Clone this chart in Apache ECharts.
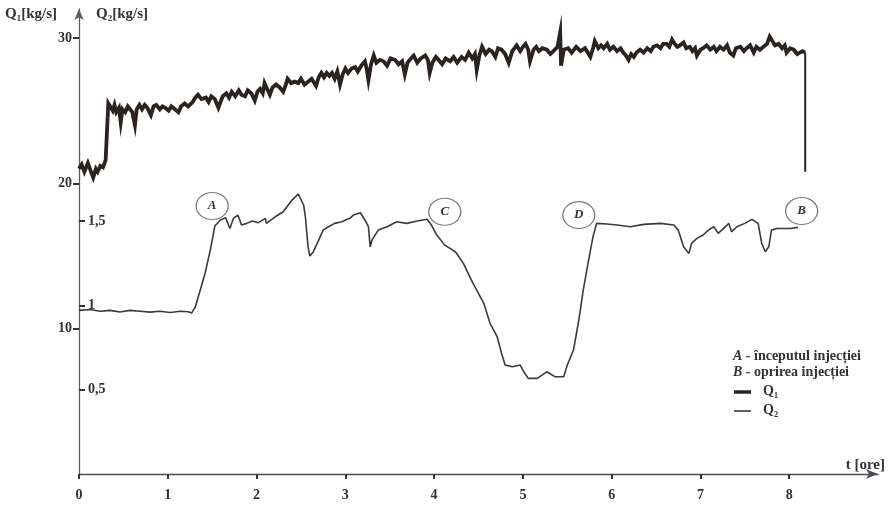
<!DOCTYPE html>
<html>
<head>
<meta charset="utf-8">
<script src="https://cdn.jsdelivr.net/npm/echarts@6/dist/echarts.min.js"></script>
<style>
  html, body { margin: 0; padding: 0; background: #fff; }
  #chart { width: 888px; height: 508px; }
</style>
</head>
<body>
<div id="chart"></div>
<script>
// t [ore] -> Q1 [kg/s]
var q1Data = [
  [0.00,21.0],[0.03,21.3],[0.06,20.8],[0.10,21.4],[0.13,20.9],[0.16,20.4],[0.19,21.0],[0.21,20.8],[0.24,21.2],[0.27,21.1],
  [0.30,21.6],[0.32,21.5],[0.33,25.5],[0.35,25.3],[0.38,25.0],[0.40,25.4],[0.42,24.9],[0.45,25.2],[0.47,24.2],[0.49,25.1],
  [0.52,24.9],[0.55,25.3],[0.57,25.2],[0.60,24.9],[0.63,24.0],[0.65,25.1],[0.68,25.4],[0.71,25.1],[0.74,25.4],[0.77,25.2],
  [0.81,24.7],[0.84,25.3],[0.87,25.4],[0.91,25.1],[0.94,25.3],[0.97,25.2],[1.01,25.0],[1.04,25.3],[1.08,25.1],[1.12,24.9],
  [1.15,25.3],[1.19,25.5],[1.23,25.3],[1.28,25.6],[1.31,25.9],[1.34,26.1],[1.38,25.8],[1.43,25.9],[1.46,25.6],[1.49,26.0],
  [1.53,25.8],[1.57,25.2],[1.60,25.7],[1.62,26.0],[1.66,26.2],[1.69,25.9],[1.72,26.3],[1.76,26.0],[1.80,26.4],[1.83,26.1],
  [1.87,26.0],[1.90,26.4],[1.94,26.2],[1.98,25.7],[2.01,26.3],[2.04,26.5],[2.07,26.2],[2.09,26.9],[2.12,26.5],[2.15,26.1],
  [2.18,26.6],[2.22,26.8],[2.26,26.6],[2.30,26.3],[2.33,26.8],[2.35,27.2],[2.39,26.9],[2.43,27.0],[2.47,26.9],[2.50,27.2],
  [2.54,26.8],[2.58,27.0],[2.62,27.2],[2.67,26.7],[2.70,27.3],[2.73,27.6],[2.76,27.3],[2.79,27.6],[2.82,27.4],[2.85,27.6],
  [2.88,27.2],[2.91,27.7],[2.94,26.8],[2.97,27.5],[3.00,27.9],[3.03,27.6],[3.07,27.9],[3.11,28.0],[3.14,27.7],[3.18,28.1],
  [3.22,28.4],[3.24,27.9],[3.26,27.1],[3.29,28.2],[3.32,28.8],[3.35,28.3],[3.39,28.5],[3.43,28.4],[3.47,28.1],[3.51,28.6],
  [3.56,28.5],[3.60,28.2],[3.64,28.4],[3.67,27.5],[3.70,28.3],[3.74,28.6],[3.77,28.8],[3.81,28.3],[3.85,28.6],[3.90,28.8],
  [3.93,28.5],[3.95,27.6],[3.98,28.3],[4.02,28.7],[4.05,28.5],[4.09,28.2],[4.13,28.6],[4.18,28.4],[4.22,28.7],[4.26,28.3],
  [4.31,28.7],[4.35,28.5],[4.39,29.0],[4.43,28.6],[4.46,28.9],[4.48,27.8],[4.51,28.8],[4.54,29.4],[4.58,28.9],[4.62,29.2],
  [4.65,29.1],[4.69,28.7],[4.72,29.3],[4.76,29.2],[4.80,28.9],[4.84,28.3],[4.88,29.1],[4.93,29.5],[4.97,29.1],[5.00,29.4],
  [5.03,29.6],[5.06,29.2],[5.08,28.4],[5.12,29.2],[5.15,29.4],[5.18,29.1],[5.22,29.3],[5.27,29.2],[5.31,28.9],[5.36,29.2],
  [5.39,29.4],[5.42,30.4],[5.43,28.1],[5.46,29.2],[5.51,29.3],[5.55,29.0],[5.60,29.4],[5.65,29.1],[5.70,29.3],[5.73,29.0],
  [5.76,28.7],[5.79,29.3],[5.81,29.8],[5.85,29.3],[5.88,29.5],[5.91,29.3],[5.95,29.6],[5.98,29.2],[6.02,29.4],[6.06,29.1],
  [6.10,29.3],[6.13,29.0],[6.16,28.8],[6.19,28.5],[6.22,28.9],[6.25,28.7],[6.28,29.0],[6.32,29.2],[6.36,29.0],[6.40,29.3],
  [6.44,29.1],[6.47,29.4],[6.51,29.5],[6.55,29.3],[6.58,29.6],[6.62,29.6],[6.65,29.4],[6.68,29.9],[6.71,29.6],[6.74,29.4],
  [6.77,29.5],[6.81,29.7],[6.84,29.3],[6.88,29.4],[6.91,29.1],[6.94,29.3],[6.96,28.8],[7.00,29.2],[7.03,29.3],[7.07,29.5],
  [7.11,29.2],[7.15,29.4],[7.18,29.1],[7.22,29.4],[7.26,29.2],[7.30,29.5],[7.33,29.0],[7.37,28.8],[7.40,29.3],[7.45,29.4],
  [7.49,29.1],[7.52,29.3],[7.56,29.5],[7.60,29.0],[7.63,29.4],[7.67,29.2],[7.71,29.4],[7.75,29.6],[7.78,30.1],[7.81,29.8],
  [7.84,29.5],[7.88,29.6],[7.92,29.3],[7.95,29.5],[7.97,29.0],[8.01,29.3],[8.05,29.2],[8.09,28.9],[8.12,29.0],[8.15,29.1],
  [8.18,29.0]
];

// final shut-off drop of Q1 (drawn thinner)
var q1Drop = [[8.18,29.0],[8.18,20.8]];

// t [ore] -> Q2 [kg/s]
var q2Data = [
  [0.00,0.970],[0.12,0.975],[0.24,0.965],[0.35,0.970],[0.46,0.960],[0.57,0.970],[0.69,0.965],[0.80,0.960],[0.91,0.965],
  [1.03,0.958],[1.14,0.965],[1.23,0.962],[1.27,0.955],[1.31,0.990],[1.36,1.080],[1.42,1.190],[1.48,1.330],[1.53,1.470],
  [1.59,1.505],[1.65,1.520],[1.70,1.456],[1.74,1.516],[1.79,1.535],[1.83,1.476],[1.89,1.486],[1.95,1.500],[2.02,1.490],
  [2.10,1.516],[2.11,1.486],[2.21,1.525],[2.30,1.555],[2.40,1.624],[2.47,1.660],[2.53,1.595],[2.55,1.525],[2.58,1.347],
  [2.60,1.292],[2.64,1.318],[2.70,1.387],[2.75,1.446],[2.81,1.466],[2.88,1.486],[2.96,1.496],[3.05,1.516],[3.09,1.535],
  [3.17,1.549],[3.22,1.506],[3.26,1.466],[3.28,1.347],[3.30,1.387],[3.37,1.446],[3.47,1.466],[3.58,1.496],[3.69,1.486],
  [3.81,1.500],[3.92,1.510],[3.97,1.476],[4.03,1.417],[4.12,1.357],[4.24,1.318],[4.33,1.249],[4.42,1.150],[4.48,1.090],
  [4.56,1.012],[4.63,0.893],[4.71,0.814],[4.76,0.715],[4.80,0.646],[4.88,0.636],[4.97,0.646],[5.01,0.606],[5.06,0.567],
  [5.16,0.567],[5.27,0.606],[5.36,0.577],[5.46,0.577],[5.50,0.646],[5.57,0.735],[5.63,0.913],[5.68,1.090],[5.74,1.268],
  [5.79,1.407],[5.83,1.486],[5.95,1.482],[6.06,1.476],[6.21,1.466],[6.36,1.480],[6.55,1.486],[6.70,1.476],[6.75,1.446],
  [6.81,1.347],[6.87,1.308],[6.90,1.367],[6.96,1.397],[7.03,1.417],[7.09,1.446],[7.15,1.466],[7.20,1.427],[7.26,1.456],
  [7.32,1.486],[7.35,1.436],[7.41,1.466],[7.50,1.486],[7.58,1.510],[7.65,1.486],[7.69,1.367],[7.73,1.318],[7.77,1.347],
  [7.80,1.446],[7.86,1.456],[8.01,1.456],[8.10,1.462]
];

var xTicks = [0, 1, 2, 3, 4, 5, 6, 7, 8];
var q1Ticks = [10, 20, 30];
var q2Ticks = [0.5, 1, 1.5];

// circled event letters, placed on the Q2 scale
var eventNames = ['A', 'C', 'D', 'B'];
var eventT = [1.50, 4.12, 5.63, 8.14];
var eventQ2 = [1.589, 1.555, 1.535, 1.559];

var serif = 'Liberation Serif';
var ink = '#2b2320';

var chart = echarts.init(document.getElementById('chart'));

chart.setOption({
  animation: false,
  backgroundColor: '#fff',
  grid: { left: 79, right: 10, top: 9, bottom: 34, containLabel: false },
  xAxis: {
    type: 'value',
    min: 0,
    max: 9,
    interval: 1,
    axisLine: { onZero: false, symbol: ['none', 'arrow'], symbolSize: [7, 12],
      lineStyle: { color: '#4a4a55', width: 1.3 } },
    axisTick: { customValues: xTicks, length: 5, inside: false,
      lineStyle: { color: '#333', width: 2 } },
    axisLabel: { customValues: xTicks, margin: 14, fontFamily: serif, fontWeight: 'bold',
      fontSize: 14, color: '#333' },
    splitLine: { show: false }
  },
  yAxis: [
    {
      type: 'value',
      min: 0,
      max: 32,
      position: 'left',
      axisLine: { show: true, onZero: false, symbol: ['none', 'arrow'], symbolSize: [7, 11],
        lineStyle: { color: '#5a5a70', width: 1.3 } },
      axisTick: { customValues: q1Ticks, length: 6, lineStyle: { color: '#333', width: 2 } },
      axisLabel: { customValues: q1Ticks, margin: 7, fontFamily: serif, fontWeight: 'bold',
        fontSize: 14, color: '#333' },
      splitLine: { show: false }
    },
    {
      type: 'value',
      min: 0,
      max: 2.757,
      position: 'left',
      axisLine: { show: false, onZero: false },
      axisTick: { customValues: q2Ticks, inside: true, length: 6, lineStyle: { color: '#333', width: 2 } },
      axisLabel: { customValues: q2Ticks, inside: true, margin: 9, fontFamily: serif, fontWeight: 'bold',
        fontSize: 14, color: '#333',
        formatter: function (v) { return String(v).replace('.', ','); } },
      splitLine: { show: false }
    }
  ],
  series: [
    {
      name: 'Q1',
      type: 'line',
      yAxisIndex: 0,
      data: q1Data,
      showSymbol: false,
      lineStyle: { color: ink, width: 3.8, join: 'miter' }
    },
    {
      name: 'Q1 stop',
      type: 'line',
      yAxisIndex: 0,
      data: q1Drop,
      showSymbol: false,
      lineStyle: { color: ink, width: 2 }
    },
    {
      name: 'Q2',
      type: 'line',
      yAxisIndex: 1,
      data: q2Data,
      showSymbol: false,
      lineStyle: { color: '#3a3a3a', width: 1.6 },
      markPoint: {
        silent: true,
        symbol: 'circle',
        symbolSize: [32, 27],
        itemStyle: { color: 'rgba(255,255,255,0)', borderColor: '#7a7a7a', borderWidth: 1.2 },
        label: { show: true, position: 'inside', fontFamily: serif, fontStyle: 'italic',
          fontWeight: 'bold', fontSize: 13, color: '#333',
          formatter: function (p) { return p.name; } },
        data: eventNames.map(function (n, i) {
          return { name: n, coord: [eventT[i], eventQ2[i]] };
        })
      }
    }
  ],
  graphic: [
    { type: 'text', left: 5, top: 7,
      style: { text: 'Q\u2081[kg/s]', font: 'bold 15px "Liberation Serif"', fill: '#333' } },
    { type: 'text', left: 96, top: 7,
      style: { text: 'Q\u2082[kg/s]', font: 'bold 15px "Liberation Serif"', fill: '#333' } },
    { type: 'text', right: 3, top: 458,
      style: { text: 't [ore]', font: 'bold 15px "Liberation Serif"', fill: '#333' } },
    { type: 'text', left: 733, top: 349,
      style: { rich: {
        l: { fontFamily: serif, fontStyle: 'italic', fontWeight: 'bold', fontSize: 14, fill: '#333' },
        t: { fontFamily: serif, fontWeight: 'bold', fontSize: 14, fill: '#333' } },
        text: '{l|A}{t| - începutul injecției}' } },
    { type: 'text', left: 733, top: 365,
      style: { rich: {
        l: { fontFamily: serif, fontStyle: 'italic', fontWeight: 'bold', fontSize: 14, fill: '#333' },
        t: { fontFamily: serif, fontWeight: 'bold', fontSize: 14, fill: '#333' } },
        text: '{l|B}{t| - oprirea injecției}' } },
    { type: 'line', shape: { x1: 734, y1: 392, x2: 751, y2: 392 },
      style: { stroke: ink, lineWidth: 3.5 } },
    { type: 'text', left: 763, top: 384,
      style: { text: 'Q\u2081', font: 'bold 14px "Liberation Serif"', fill: '#333' } },
    { type: 'line', shape: { x1: 734, y1: 411, x2: 751, y2: 411 },
      style: { stroke: '#3a3a3a', lineWidth: 1.6 } },
    { type: 'text', left: 763, top: 403,
      style: { text: 'Q\u2082', font: 'bold 14px "Liberation Serif"', fill: '#333' } }
  ]
});
</script>
</body>
</html>
